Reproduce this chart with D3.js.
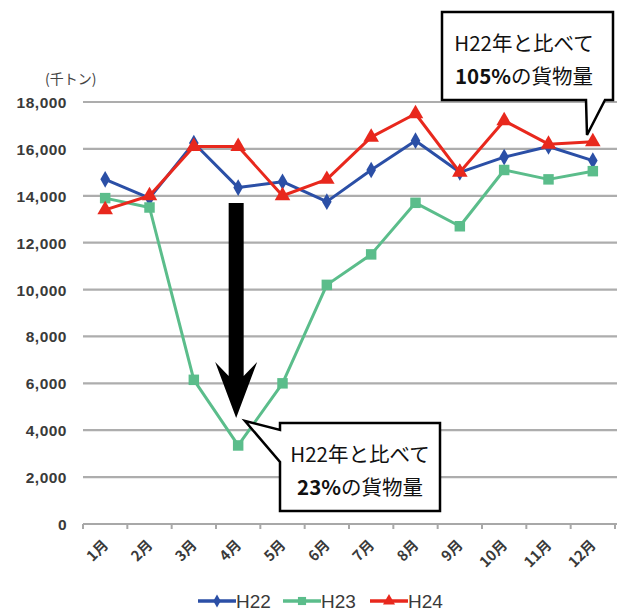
<!DOCTYPE html>
<html>
<head>
<meta charset="utf-8">
<script src="https://cdn.jsdelivr.net/npm/d3@7"></script>
<style>
  body { margin: 0; background: #fff; }
  svg { display: block; }
</style>
</head>
<body>
<svg id="chart" width="617" height="615"></svg>
<script>
// Monthly cargo volume (thousand tons)
const months = ["1月","2月","3月","4月","5月","6月","7月","8月","9月","10月","11月","12月"];
const h22 = [14700, 13900, 16250, 14350, 14600, 13750, 15100, 16350, 15000, 15650, 16100, 15500];
const h23 = [13900, 13500, 6150, 3350, 6000, 10200, 11500, 13700, 12700, 15100, 14700, 15050];
const h24 = [13400, 14000, 16100, 16100, 14000, 14700, 16500, 17500, 15000, 17200, 16200, 16300];
const yTicks = [0, 2000, 4000, 6000, 8000, 10000, 12000, 14000, 16000, 18000];
const seriesNames = ["H22", "H23", "H24"];
const seriesColors = ["#2b4fa6", "#5bbd8b", "#e8281d"];

const svg = d3.select("#chart");
const plotLeft = 83, plotRight = 615, plotTop = 102, plotBottom = 524;

const x = d3.scaleBand().domain(months).range([plotLeft, plotRight]);
const y = d3.scaleLinear().domain([0, 18000]).range([plotBottom, plotTop]);
const cx = m => x(m) + x.bandwidth() / 2;

// horizontal gridlines
svg.append("g").selectAll("line")
  .data(yTicks.filter(v => v > 0))
  .join("line")
  .attr("x1", plotLeft).attr("x2", 617)
  .attr("y1", d => y(d)).attr("y2", d => y(d))
  .attr("stroke", "#adadad").attr("stroke-width", 2.2);

// y axis labels
const fmt = d3.format(",");
svg.append("g").selectAll("text")
  .data(yTicks)
  .join("text")
  .attr("x", 67).attr("y", d => y(d) + 6)
  .attr("text-anchor", "end")
  .attr("font-family", "Liberation Sans, Arial, sans-serif")
  .attr("font-size", 15.5).attr("font-weight", "bold")
  .attr("letter-spacing", 0.5)
  .attr("fill", "#3a3a3a")
  .text(d => fmt(d));

svg.append("text")
  .attr("x", 45).attr("y", 84)
  .attr("font-family", "Noto Sans CJK JP, sans-serif")
  .attr("font-size", 14).attr("fill", "#444")
  .text("(千トン)");

// x axis with tick marks between months
const xAxis = svg.append("g");
xAxis.append("line")
  .attr("x1", plotLeft).attr("x2", 617).attr("y1", plotBottom).attr("y2", plotBottom)
  .attr("stroke", "#a8a8a8").attr("stroke-width", 2);
xAxis.selectAll("line.tk")
  .data(months.concat(["end"]))
  .join("line").attr("class", "tk")
  .attr("x1", (d, i) => plotLeft + i * x.step())
  .attr("x2", (d, i) => plotLeft + i * x.step())
  .attr("y1", plotBottom).attr("y2", plotBottom + 5)
  .attr("stroke", "#a8a8a8").attr("stroke-width", 2);
xAxis.selectAll("text")
  .data(months)
  .join("text")
  .attr("transform", d => `translate(${cx(d) + 4},${plotBottom + 22}) rotate(-45)`)
  .attr("text-anchor", "end")
  .attr("font-family", "Noto Sans CJK JP, sans-serif")
  .attr("font-size", 14.5).attr("font-weight", "bold")
  .attr("fill", "#3a3a3a")
  .text(d => d);

// series lines and markers
const symbols = [d3.symbolDiamond, d3.symbolSquare, d3.symbolTriangle];
const symbolSizes = [80, 110, 105];
const allSeries = [h22, h23, h24];
const line = d3.line().x((d, i) => cx(months[i])).y(d => y(d));

allSeries.forEach((vals, s) => {
  const g = svg.append("g");
  g.append("path")
    .datum(vals)
    .attr("d", line)
    .attr("fill", "none")
    .attr("stroke", seriesColors[s])
    .attr("stroke-width", 3)
    .attr("stroke-linejoin", "round");
  g.selectAll("path.mk")
    .data(vals)
    .join("path").attr("class", "mk")
    .attr("transform", (d, i) => `translate(${cx(months[i])},${y(d)})`)
    .attr("d", d3.symbol().type(symbols[s]).size(symbolSizes[s]))
    .attr("fill", seriesColors[s]);
});

// legend
const legendX = [198, 283, 370];
seriesNames.forEach((name, s) => {
  const g = svg.append("g").attr("transform", `translate(${legendX[s]},601)`);
  g.append("line").attr("x1", 0).attr("x2", 38).attr("y1", 0).attr("y2", 0)
    .attr("stroke", seriesColors[s]).attr("stroke-width", 3.5);
  g.append("path").attr("transform", "translate(19,0)")
    .attr("d", d3.symbol().type(symbols[s]).size(symbolSizes[s] * 0.6))
    .attr("fill", seriesColors[s]);
  g.append("text").attr("x", 38).attr("y", 7)
    .attr("font-family", "Liberation Sans Narrow, Liberation Sans, Arial, sans-serif")
    .attr("font-size", 19).attr("fill", "#3a3a3a")
    .text(name);
});

// downward arrow over April
const ax = cx("4月") - 2;
svg.append("path")
  .attr("d", `M${ax - 7.5},203 H${ax + 7.5} V376 L${ax + 21},362 L${ax},418 L${ax - 21},362 L${ax - 7.5},376 Z`)
  .attr("fill", "#000");

// callouts
const font = "Noto Sans CJK JP, sans-serif";
function callout(path, cxText, y1, y2, pct) {
  const g = svg.append("g");
  g.append("path").attr("d", path)
    .attr("fill", "#fff").attr("stroke", "#000").attr("stroke-width", 2.5)
    .attr("stroke-linejoin", "miter");
  g.append("text").attr("x", cxText).attr("y", y1)
    .attr("text-anchor", "middle").attr("font-family", font)
    .attr("font-size", 20.5).attr("fill", "#111")
    .text("H22年と比べて");
  const t = g.append("text").attr("x", cxText).attr("y", y2)
    .attr("text-anchor", "middle").attr("font-family", font)
    .attr("font-size", 20.5).attr("fill", "#111");
  t.append("tspan").attr("font-weight", "bold").text(pct);
  t.append("tspan").text("の貨物量");
}
callout("M442,12 H613 V100 H605 L587,135 L586,100 H442 Z", 524, 51, 84, "105%");
callout("M280,423 H440 V511 H280 V462 L245,421 L280,430 Z", 360, 462, 495, "23%");
</script>
</body>
</html>
